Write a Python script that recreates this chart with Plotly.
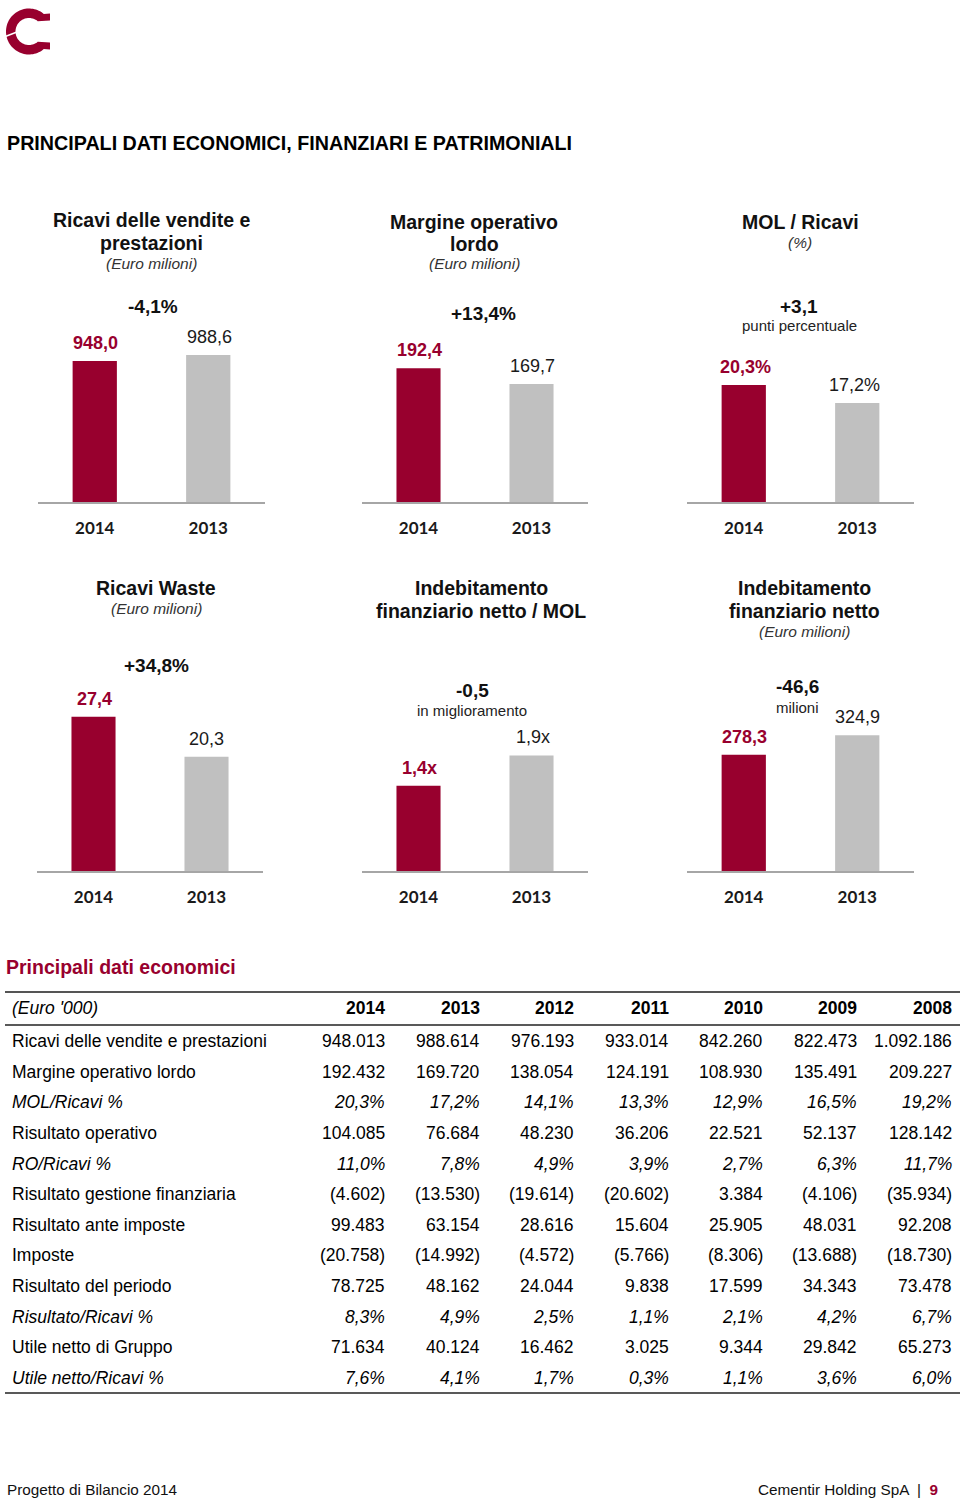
import numpy as np
import plotly.graph_objects as go

W, H = 960, 1502


def px(x):
    return x / W


def py(y):
    return 1 - y / H


RED = "#98002E"
GRAY = "#C0C0C0"
FONT = "Liberation Sans, Arial, sans-serif"
TICKFONT = "Lato, Open Sans, sans-serif"

# ---------------- data ----------------
years_bar = ["2014", "2013"]
chart_titles = [
    ["Ricavi delle vendite e", "prestazioni"],
    ["Margine operativo", "lordo"],
    ["MOL / Ricavi"],
    ["Ricavi Waste"],
    ["Indebitamento", "finanziario netto / MOL"],
    ["Indebitamento", "finanziario netto"],
]
chart_units = ["(Euro milioni)", "(Euro milioni)", "(%)", "(Euro milioni)", "", "(Euro milioni)"]
values_2014 = [948.0, 192.4, 20.3, 27.4, 1.4, 278.3]
values_2013 = [988.6, 169.7, 17.2, 20.3, 1.9, 324.9]
labels_2014 = ["948,0", "192,4", "20,3%", "27,4", "1,4x", "278,3"]
labels_2013 = ["988,6", "169,7", "17,2%", "20,3", "1,9x", "324,9"]
change_main = ["-4,1%", "+13,4%", "+3,1", "+34,8%", "-0,5", "-46,6"]
change_sub = ["", "", "punti percentuale", "", "in miglioramento", "milioni"]

table_unit = "(Euro '000)"
table_years = ["2014", "2013", "2012", "2011", "2010", "2009", "2008"]
row_labels = [
    "Ricavi delle vendite e prestazioni",
    "Margine operativo lordo",
    "MOL/Ricavi %",
    "Risultato operativo",
    "RO/Ricavi %",
    "Risultato gestione finanziaria",
    "Risultato ante imposte",
    "Imposte",
    "Risultato del periodo",
    "Risultato/Ricavi %",
    "Utile netto di Gruppo",
    "Utile netto/Ricavi %",
]
italic_rows = [False, False, True, False, True, False, False, False, False, True, False, True]
col_2014 = ["948.013", "192.432", "20,3%", "104.085", "11,0%", "(4.602)", "99.483", "(20.758)", "78.725", "8,3%", "71.634", "7,6%"]
col_2013 = ["988.614", "169.720", "17,2%", "76.684", "7,8%", "(13.530)", "63.154", "(14.992)", "48.162", "4,9%", "40.124", "4,1%"]
col_2012 = ["976.193", "138.054", "14,1%", "48.230", "4,9%", "(19.614)", "28.616", "(4.572)", "24.044", "2,5%", "16.462", "1,7%"]
col_2011 = ["933.014", "124.191", "13,3%", "36.206", "3,9%", "(20.602)", "15.604", "(5.766)", "9.838", "1,1%", "3.025", "0,3%"]
col_2010 = ["842.260", "108.930", "12,9%", "22.521", "2,7%", "3.384", "25.905", "(8.306)", "17.599", "2,1%", "9.344", "1,1%"]
col_2009 = ["822.473", "135.491", "16,5%", "52.137", "6,3%", "(4.106)", "48.031", "(13.688)", "34.343", "4,2%", "29.842", "3,6%"]
col_2008 = ["1.092.186", "209.227", "19,2%", "128.142", "11,7%", "(35.934)", "92.208", "(18.730)", "73.478", "6,7%", "65.273", "6,0%"]

# ---------------- layout geometry ----------------
x_domains_px = [(38, 265), (362, 588), (687, 914), (37, 263), (362, 588), (687, 914)]
y_domains_px = [(290, 502)] * 3 + [(660, 871)] * 3
y_max = [1425, 305, 36.8, 37.5, 3.47, 505]
title_x = [151, 474, 800, 156, 481, 804]
title_y0 = [220, 222, 222, 588, 588, 588]
title_dy = [23, 22, 20, 20, 23, 23]
change_pos = [(153, 306), (483, 313), (799, 306), (156, 665), (472, 690), (797, 687)]
label_xshift_2014 = [1, 1, 2, 1, 1, 1]
label_xshift_2013 = [1, 1, -3, 0, 1, 0]

fig = go.Figure()
annotations = []
layout_axes = {}

for i in range(6):
    k = "" if i == 0 else str(i + 1)
    fig.add_trace(go.Bar(
        x=years_bar,
        y=[values_2014[i], values_2013[i]],
        marker=dict(color=[RED, GRAY], line=dict(width=0)),
        width=0.39,
        xaxis="x" + k, yaxis="y" + k,
        showlegend=False, hoverinfo="skip",
    ))
    x0, x1 = x_domains_px[i]
    y0, y1 = y_domains_px[i]
    layout_axes["xaxis" + k] = dict(
        domain=[px(x0), px(x1)], anchor="y" + k, type="category",
        range=[-0.5, 1.5], showline=True, linecolor="#A6A6A6", linewidth=1.5,
        showgrid=False, zeroline=False, ticks="", ticklabelstandoff=10,
        tickfont=dict(family=TICKFONT, size=17, color="#1a1a1a", weight="bold"),
        fixedrange=True,
    )
    layout_axes["yaxis" + k] = dict(
        domain=[py(y1), py(y0)], anchor="x" + k, range=[0, y_max[i]],
        visible=False, fixedrange=True,
    )
    # value labels (category index 0 = 2014, 1 = 2013)
    annotations.append(dict(
        xref="x" + k, yref="y" + k, x=0, y=values_2014[i],
        text="<b>" + labels_2014[i] + "</b>", showarrow=False, yshift=18,
        xshift=label_xshift_2014[i],
        yanchor="middle", font=dict(family=FONT, size=18, color=RED),
    ))
    annotations.append(dict(
        xref="x" + k, yref="y" + k, x=1, y=values_2013[i],
        text=labels_2013[i], showarrow=False, yshift=18,
        xshift=label_xshift_2013[i],
        yanchor="middle", font=dict(family=FONT, size=18, color="#1a1a1a"),
    ))
    # titles
    ty = title_y0[i]
    for line in chart_titles[i]:
        annotations.append(dict(
            xref="paper", yref="paper", x=px(title_x[i]), y=py(ty),
            text="<b>" + line + "</b>", showarrow=False, xanchor="center", yanchor="middle",
            font=dict(family=FONT, size=19.5, color="#111111"),
        ))
        ty += title_dy[i]
    if chart_units[i]:
        annotations.append(dict(
            xref="paper", yref="paper", x=px(title_x[i]), y=py(ty - title_dy[i] + 20),
            text="<i>" + chart_units[i] + "</i>", showarrow=False, xanchor="center", yanchor="middle",
            font=dict(family=FONT, size=15.5, color="#333333"),
        ))
    # change labels
    cx, cy = change_pos[i]
    annotations.append(dict(
        xref="paper", yref="paper", x=px(cx), y=py(cy),
        text="<b>" + change_main[i] + "</b>", showarrow=False, xanchor="center", yanchor="middle",
        font=dict(family=FONT, size=19, color="#111111"),
    ))
    if change_sub[i]:
        annotations.append(dict(
            xref="paper", yref="paper", x=px(cx), y=py(cy + 20),
            text=change_sub[i], showarrow=False, xanchor="center", yanchor="middle",
            font=dict(family=FONT, size=15, color="#222222"),
        ))

# ---------------- table (text cells) ----------------
table_cols = [col_2014, col_2013, col_2012, col_2011, col_2010, col_2009, col_2008]
col_right_px = [387, 482, 576, 671, 765, 859, 954]
label_left_px = 10
header_y_px = 1008
row0_y_px = 1041
row_step_px = 30.64
TFONT = dict(family=FONT, size=17.5, color="#000000")


def cell_text(v, italic):
    return "<i>" + v + "</i>" if italic else v


annotations.append(dict(
    xref="paper", yref="paper", x=px(label_left_px), y=py(header_y_px), xanchor="left", yanchor="middle",
    text="<i>" + table_unit + "</i>", showarrow=False, font=TFONT))
for j, yr in enumerate(table_years):
    annotations.append(dict(
        xref="paper", yref="paper", x=px(col_right_px[j]), y=py(header_y_px), xanchor="right",
        yanchor="middle", text="<b>" + yr + "</b>", showarrow=False, font=TFONT))
for r, lab in enumerate(row_labels):
    yy = py(row0_y_px + r * row_step_px)
    annotations.append(dict(
        xref="paper", yref="paper", x=px(label_left_px), y=yy, xanchor="left", yanchor="middle",
        text=cell_text(lab, italic_rows[r]), showarrow=False, font=TFONT))
    for j, col in enumerate(table_cols):
        annotations.append(dict(
            xref="paper", yref="paper", x=px(col_right_px[j]), y=yy, xanchor="right", yanchor="middle",
            text=cell_text(col[r], italic_rows[r]), showarrow=False, font=TFONT))

shapes = [
    dict(type="line", xref="paper", yref="paper", x0=px(5), x1=1.0, y0=py(992), y1=py(992),
         line=dict(color="#555555", width=2)),
    dict(type="line", xref="paper", yref="paper", x0=px(5), x1=1.0, y0=py(1025), y1=py(1025),
         line=dict(color="#222222", width=1.3)),
    dict(type="line", xref="paper", yref="paper", x0=px(5), x1=1.0, y0=py(1393), y1=py(1393),
         line=dict(color="#222222", width=1.3)),
]

# logo (C shape)
cxl, cyl, ro, ri = 29, 31.5, 23, 13.5
ang_o = np.radians(np.linspace(50, 310, 70))
ang_i = np.radians(np.linspace(310, 50, 70))
pts = [(50, 13.5)]
pts += [(cxl + ro * np.cos(a), cyl - ro * np.sin(a)) for a in ang_o]
pts += [(50, 49.5), (50, 42.5)]
pts += [(cxl + ri * np.cos(a), cyl - ri * np.sin(a)) for a in ang_i]
pts += [(50, 20.5)]
path = "M " + " L ".join(f"{px(x):.5f},{py(y):.5f}" for x, y in pts) + " Z"
shapes.append(dict(type="path", xref="paper", yref="paper", path=path,
                   fillcolor=RED, line=dict(width=0)))
shapes.append(dict(type="line", xref="paper", yref="paper", x0=px(4), y0=py(37), x1=px(17), y1=py(32),
                   line=dict(color="white", width=1.5)))

# headings and footer
annotations += [
    dict(xref="paper", yref="paper", x=px(5), y=py(143), xanchor="left", yanchor="middle",
         text="<b>PRINCIPALI DATI ECONOMICI, FINANZIARI E PATRIMONIALI</b>", showarrow=False,
         font=dict(family=FONT, size=19.7, color="#000000")),
    dict(xref="paper", yref="paper", x=px(4), y=py(967), xanchor="left", yanchor="middle",
         text="<b>Principali dati economici</b>", showarrow=False,
         font=dict(family=FONT, size=19.5, color=RED)),
    dict(xref="paper", yref="paper", x=px(5), y=py(1489), xanchor="left", yanchor="middle",
         text="Progetto di Bilancio 2014", showarrow=False,
         font=dict(family=FONT, size=15.3, color="#111111")),
    dict(xref="paper", yref="paper", x=px(940), y=py(1489), xanchor="right", yanchor="middle",
         text="Cementir Holding SpA  |  <b><span style='color:" + RED + "'>9</span></b>", showarrow=False,
         font=dict(family=FONT, size=15.3, color="#111111")),
]

fig.update_layout(
    width=W, height=H,
    margin=dict(l=0, r=0, t=0, b=0),
    paper_bgcolor="white", plot_bgcolor="white",
    showlegend=False,
    annotations=annotations,
    shapes=shapes,
    **layout_axes,
)

fig.write_html("out.html", config={"displayModeBar": False})
